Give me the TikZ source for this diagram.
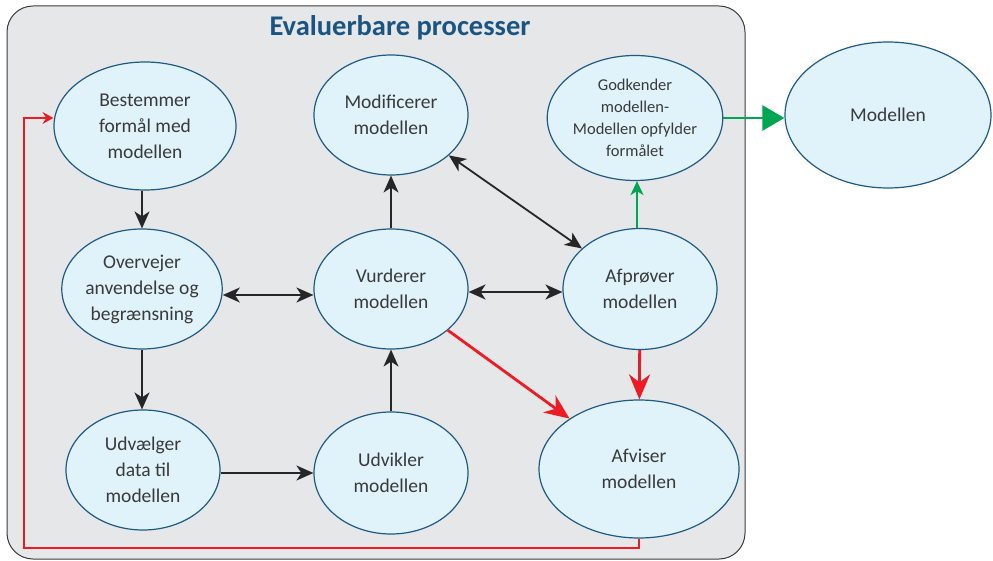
\documentclass[tikz,border=0pt]{standalone}
\usepackage{fontspec}
\setmainfont{Carlito}
\usetikzlibrary{arrows.meta,shapes.geometric}
\definecolor{bggray}{HTML}{E6E7E8}
\definecolor{bgline}{HTML}{3C3C3C}
\definecolor{ellfill}{HTML}{E0F2FA}
\definecolor{elldraw}{HTML}{1F5A85}
\definecolor{txt}{HTML}{3A3A3A}
\definecolor{titleblue}{HTML}{1A5482}
\definecolor{myred}{HTML}{ED1C24}
\definecolor{mygreen}{HTML}{00A651}
\tikzset{
  proc/.style 2 args={ellipse, draw=elldraw, fill=ellfill, line width=1.2pt,
    minimum width=#1, minimum height=#2, inner sep=0pt, align=center,
    text=txt, font=\fontsize{19.5}{26}\selectfont},
  blk/.style={draw=black!85, line width=1.8pt, -{Stealth[length=17pt,width=15pt,inset=5pt]}},
  blkd/.style={draw=black!85, line width=1.8pt, {Stealth[length=17pt,width=15pt,inset=5pt]}-{Stealth[length=17pt,width=15pt,inset=5pt]}},
  redarr/.style={draw=myred, line width=2.8pt, -{Stealth[length=25pt,width=21pt,inset=8pt]}},
  redsmall/.style={draw=myred, line width=2.8pt, -{Stealth[length=11pt,width=12pt,inset=4pt]}},
  grnsmall/.style={draw=mygreen, line width=2.4pt, -{Stealth[length=14pt,width=13pt,inset=4pt]}},
  grnbig/.style={draw=mygreen, line width=2.8pt, -{Triangle[length=22pt,width=25pt]}},
}
\begin{document}
\begin{tikzpicture}[x=1pt,y=-1pt]
\useasboundingbox (0,0) rectangle (993,561);
\draw[fill=bggray, draw=bgline, line width=1pt, rounded corners=26pt] (7,6) rectangle (745,559);
\node[font=\fontsize{28.5}{32}\selectfont\bfseries, text=titleblue] (title) at (400,28) {Evaluerbare processer};

\node[proc={182pt}{128pt}] (n1) at (145,126) {Bestemmer\\formål med\\modellen};
\node[proc={154pt}{120pt}] (n2) at (391,115) {Modificerer\\modellen};
\node[proc={168pt}{125pt}, font=\fontsize{16.5}{22}\selectfont] (n3) at (635,118) {Godkender\\modellen-\\Modellen opfylder\\formålet};
\node[proc={206pt}{146pt}] (n4) at (888,115) {Modellen};
\node[proc={154pt}{120pt}] (n5) at (142,289) {Overvejer\\anvendelse og\\begrænsning};
\node[proc={154pt}{120pt}] (n6) at (391,289) {Vurderer\\modellen};
\node[proc={154pt}{121pt}] (n7) at (640,289) {Afprøver\\modellen};
\node[proc={154pt}{120pt}] (n8) at (143,470) {Udvælger\\data til\\modellen};
\node[proc={154pt}{122pt}] (n9) at (391,473) {Udvikler\\modellen};
\node[proc={200pt}{138pt}] (n10) at (639,469) {Afviser\\modellen};

\draw[blk] (n1.south -| n5) -- (n5);
\draw[blk] (n5) -- (n8.north -| n5);
\draw[blkd] (n5.east |- 0,295) -- (n6.west |- 0,295);
\draw[blkd] (n6.east |- 0,292) -- (n7.west |- 0,292);
\draw[blk] (n8.east |- 0,473) -- (n9.west |- 0,473);
\draw[blk] (n9) -- (n6);
\draw[blk] (n6) -- (n2);
\draw[blkd] (n2) -- (n7);
\draw[grnsmall] (n7.north -| 637,0) -- (n3.south -| 637,0);
\draw[grnbig] (n3.east |- 0,118) -- (n4.west |- 0,118);
\draw[redarr] (n7) -- (n10);
\draw[redarr] (n6) -- (n10);
\coordinate (c1) at (639,548);
\coordinate (c2) at (24,548);
\coordinate (c3) at (24,118);
\draw[redsmall] (n10.south) -- (c1) -- (c2) -- (c3) -- (n1.west |- c3);
\end{tikzpicture}
\end{document}
